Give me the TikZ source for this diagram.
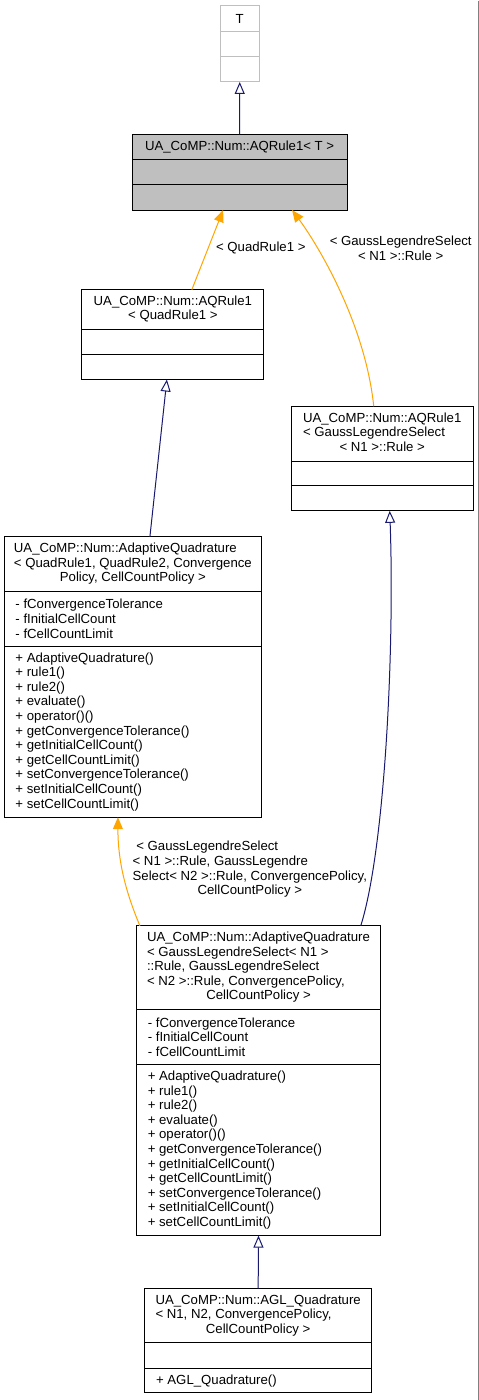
\documentclass[tikz,border=0pt]{standalone}
\usepackage{fontspec}
\setmainfont{Liberation Sans}
\usetikzlibrary{arrows.meta}
\definecolor{edgeblue}{HTML}{191970}
\definecolor{edgeorange}{HTML}{FFA500}
\definecolor{boxgray}{HTML}{BFBFBF}
\newcommand{\umlbox}[7]{%
  \node[#2, anchor=north west, minimum width=#4, minimum height=#5+#6+#7] (#1) at (#3) {};
  \draw[#2] ([yshift=-#5]#1.north west) -- ([yshift=-#5]#1.north east)
    ([yshift=-#5-#6]#1.north west) -- ([yshift=-#5-#6]#1.north east);
  \coordinate (#1-t) at ([yshift=-#5/2]#1.north);
  \coordinate (#1-a) at ([xshift=11pt, yshift=-#5-#6/2]#1.north west);
  \coordinate (#1-m) at ([xshift=11pt, yshift=-#5-#6-#7/2]#1.north west);
}
\newcommand{\ttl}[2]{\begin{tabular}{@{}l@{}}#1\\\multicolumn{1}{@{}c@{}}{#2}\end{tabular}}
\newcommand{\aqattrs}{- fConvergenceTolerance\\- fInitialCellCount\\- fCellCountLimit}
\newcommand{\aqmeths}{+ AdaptiveQuadrature()\\+ rule1()\\+ rule2()\\+ evaluate()\\+ operator()()\\+ getConvergenceTolerance()\\+ getInitialCellCount()\\+ getCellCountLimit()\\+ setConvergenceTolerance()\\+ setInitialCellCount()\\+ setCellCountLimit()}
\begin{document}
\begin{tikzpicture}[x=1pt, y=-1pt, font=\fontsize{13.2}{14.6}\selectfont,
    cls/.style={draw=black, fill=white, line width=1pt, inner sep=0pt, outer sep=0pt},
    cls cur/.style={cls, fill=boxgray},
    cls ext/.style={cls, draw=boxgray},
    txt/.style={inner sep=0pt},
    memb/.style={txt, anchor=west, align=left},
    inherit/.style={draw=edgeblue, line width=1pt, -{Triangle[open, length=12pt, width=10pt]}},
    usage/.style={draw=edgeorange, line width=1pt, -{Triangle[length=12pt, width=10pt]}}]
  \fill[white] (0,0) rectangle (479,1400);
  \draw[gray, line width=1pt] (478.5,0) -- (478.5,1400);

  \umlbox{tpar}{cls ext}{220.5,5.5}{38.8pt}{25.5pt}{25.5pt}{25pt}
  \umlbox{aqt}{cls cur}{132.3,134}{215pt}{25.3pt}{25pt}{25.4pt}
  \umlbox{aqq1}{cls}{82,289.3}{182pt}{40pt}{25pt}{25pt}
  \umlbox{aqg1}{cls}{291.3,406}{182.4pt}{55pt}{24.7pt}{25pt}
  \umlbox{aqa}{cls}{4.3,536.7}{257.4pt}{54.6pt}{54.7pt}{171.3pt}
  \umlbox{aqb}{cls}{136.7,926}{244pt}{84pt}{54.7pt}{171.3pt}
  \umlbox{agl}{cls}{145,1289}{226.7pt}{54.3pt}{25.7pt}{24.3pt}

  \node[txt] (tpar-name) at (tpar-t) {T};
  \node[txt] (aqt-name) at (aqt-t) {UA\_CoMP::Num::AQRule1< T >};
  \node[txt] (aqq1-name) at (aqq1-t) {\ttl{UA\_CoMP::Num::AQRule1}{< QuadRule1 >}};
  \node[txt] (aqg1-name) at (aqg1-t) {\ttl{UA\_CoMP::Num::AQRule1\\< GaussLegendreSelect}{< N1 >::Rule >}};
  \node[txt] (aqa-name) at (aqa-t) {\ttl{UA\_CoMP::Num::AdaptiveQuadrature\\< QuadRule1, QuadRule2, Convergence}{Policy, CellCountPolicy >}};
  \node[memb] (aqa-attr) at (aqa-a) {\aqattrs};
  \node[memb] (aqa-meth) at (aqa-m) {\aqmeths};
  \node[txt] (aqb-name) at (aqb-t) {\ttl{UA\_CoMP::Num::AdaptiveQuadrature\\< GaussLegendreSelect< N1 >\\::Rule, GaussLegendreSelect\\< N2 >::Rule, ConvergencePolicy,}{CellCountPolicy >}};
  \node[memb] (aqb-attr) at (aqb-a) {\aqattrs};
  \node[memb] (aqb-meth) at (aqb-m) {\aqmeths};
  \node[txt] (agl-name) at (agl-t) {\ttl{UA\_CoMP::Num::AGL\_Quadrature\\< N1, N2, ConvergencePolicy,}{CellCountPolicy >}};
  \node[memb] (agl-meth) at (agl-m) {+ AGL\_Quadrature()};

  \draw[inherit] (aqt.north) -- (tpar.south);
  \draw[usage] ([xshift=19pt]aqq1.north) -- ([xshift=-16.5pt]aqt.south);
  \draw[usage] ([xshift=-8.5pt]aqg1.north) .. controls +(-9,-86) and +(23,31) .. ([xshift=52.5pt]aqt.south);
  \draw[inherit] ([xshift=17pt]aqa.north) -- ([xshift=-6pt]aqq1.south);
  \draw[inherit] ([xshift=102.3pt]aqb.north) .. controls +(24,-76) and +(5,139) .. ([xshift=7.5pt]aqg1.south);
  \draw[usage] ([xshift=-118.7pt]aqb.north) .. controls +(-15,-36) and +(0,43) .. ([xshift=-15pt]aqa.south);
  \draw[inherit] (agl.north) -- (aqb.south);

  \node[txt] (lbl-q) at (261,248) {< QuadRule1 >};
  \node[txt, align=center] (lbl-g) at (401,248) {< GaussLegendreSelect\\< N1 >::Rule >};
  \node[txt] (lbl-a) at (250,870) {\ttl{\ < GaussLegendreSelect\\< N1 >::Rule, GaussLegendre\\Select< N2 >::Rule, ConvergencePolicy,}{CellCountPolicy >}};
\end{tikzpicture}
\end{document}
